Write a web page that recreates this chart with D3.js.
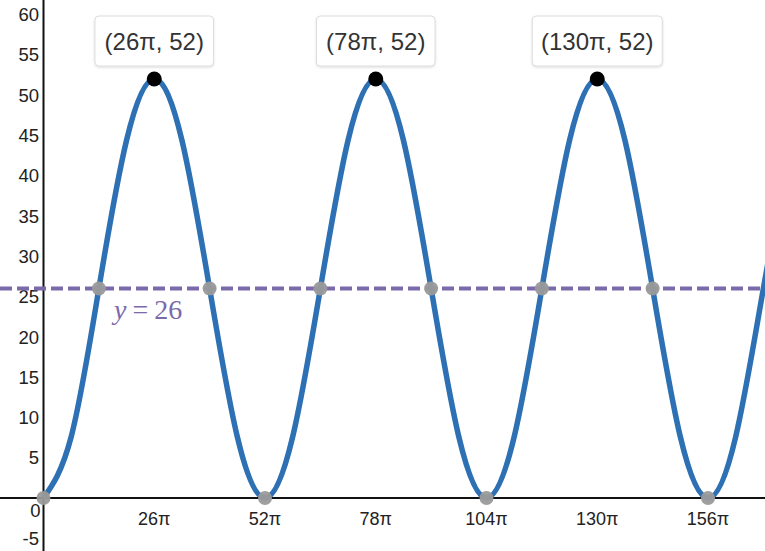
<!DOCTYPE html>
<html>
<head>
<meta charset="utf-8">
<script src="https://cdn.jsdelivr.net/npm/d3@7"></script>
<style>
  body { margin: 0; background: #fff; }
  svg { display: block; font-family: Arial, "Liberation Sans", sans-serif; }
</style>
</head>
<body>
<div id="chart"></div>
<script>
// x values are in units of π
const curveX = [0, 6.5, 13, 19.5, 26, 32.5, 39, 45.5, 52, 58.5, 65, 71.5, 78, 84.5, 91, 97.5,
  104, 110.5, 117, 123.5, 130, 136.5, 143, 149.5, 156, 162.5, 169, 175.5];
const curveY = [0, 7.6, 26, 44.4, 52, 44.4, 26, 7.6, 0, 7.6, 26, 44.4, 52, 44.4, 26, 7.6,
  0, 7.6, 26, 44.4, 52, 44.4, 26, 7.6, 0, 7.6, 26, 44.4];
const peaks = [[26, 52], [78, 52], [130, 52]];
const peakLabels = ['(26π, 52)', '(78π, 52)', '(130π, 52)'];
const grayPts = [[0, 0], [13, 26], [39, 26], [52, 0], [65, 26], [91, 26], [104, 0],
  [117, 26], [143, 26], [156, 0]];
const lineY = 26;
const xTicks = [26, 52, 78, 104, 130, 156];
const yTicks = [-5, 5, 10, 15, 20, 25, 30, 35, 40, 45, 50, 55, 60];

const width = 765, height = 551;
const x = d3.scaleLinear().domain([0, 156]).range([43.5, 708]);
const y = d3.scaleLinear().domain([0, 52]).range([498, 79]);

const svg = d3.select('#chart').append('svg')
  .attr('width', width).attr('height', height);

const defs = svg.append('defs');
const f = defs.append('filter').attr('id', 'shadow')
  .attr('x', '-10%').attr('y', '-10%').attr('width', '120%').attr('height', '130%');
f.append('feDropShadow').attr('dx', 0).attr('dy', 1).attr('stdDeviation', 1)
  .attr('flood-color', '#000').attr('flood-opacity', 0.15);

// axes
svg.append('line').attr('x1', x(0)).attr('x2', x(0)).attr('y1', 0).attr('y2', height)
  .attr('stroke', '#111').attr('stroke-width', 2);
svg.append('line').attr('x1', 0).attr('x2', width).attr('y1', y(0)).attr('y2', y(0))
  .attr('stroke', '#111').attr('stroke-width', 2);

svg.append('g').selectAll('text').data(yTicks).join('text')
  .attr('x', x(0) - 4.5).attr('y', d => y(d)).attr('dy', '0.36em')
  .attr('text-anchor', 'end').attr('font-size', 18.5).attr('fill', '#222')
  .text(d => d);
svg.append('text').attr('x', x(0) - 8).attr('y', y(0) + 19)
  .attr('text-anchor', 'middle').attr('font-size', 18.5).attr('fill', '#222').text('0');

svg.append('g').selectAll('text').data(xTicks).join('text')
  .attr('x', d => x(d)).attr('y', y(0) + 27)
  .attr('text-anchor', 'middle').attr('font-size', 18).attr('fill', '#222')
  .text(d => d + 'π');

// y = 26 dashed line
svg.append('line').attr('x1', 0).attr('x2', width).attr('y1', y(lineY)).attr('y2', y(lineY))
  .attr('stroke', '#7a6aab').attr('stroke-width', 4).attr('stroke-dasharray', '12,5');

// curve
const pts = curveX.map((d, i) => [d, curveY[i]]);
const line = d3.line().x(d => x(d[0])).y(d => y(d[1])).curve(d3.curveNatural);
svg.append('path').datum(pts).attr('d', line)
  .attr('fill', 'none').attr('stroke', '#2d70b3').attr('stroke-width', 5.5);

// gray points
svg.append('g').selectAll('circle').data(grayPts).join('circle')
  .attr('cx', d => x(d[0])).attr('cy', d => y(d[1])).attr('r', 7)
  .attr('fill', '#9a9a9a').attr('fill-opacity', 0.95);

// peaks
svg.append('g').selectAll('circle').data(peaks).join('circle')
  .attr('cx', d => x(d[0])).attr('cy', d => y(d[1])).attr('r', 7.5)
  .attr('fill', '#000');

// label for line
const yl = svg.append('text').attr('x', 114).attr('y', y(lineY) + 30)
  .attr('font-family', '"Liberation Serif", "Times New Roman", serif')
  .attr('font-size', 28).attr('fill', '#7a6aab');
yl.append('tspan').attr('font-style', 'italic').text('y');
yl.append('tspan').attr('dx', 6).text('=');
yl.append('tspan').attr('dx', 6).text('26');

// peak labels
const lab = svg.append('g').selectAll('g').data(peaks).join('g')
  .attr('transform', d => `translate(${x(d[0])},${y(d[1]) - 38})`);
lab.append('rect')
  .attr('x', (d, i) => -(peakLabels[i].length * 11.4 + 16) / 2)
  .attr('y', -25).attr('height', 50)
  .attr('width', (d, i) => peakLabels[i].length * 11.4 + 16)
  .attr('rx', 4).attr('fill', '#fff').attr('stroke', '#dcdcdc').attr('stroke-width', 1)
  .attr('filter', 'url(#shadow)');
lab.append('text').attr('text-anchor', 'middle').attr('dy', '0.36em')
  .attr('font-size', 24).attr('fill', '#333')
  .text((d, i) => peakLabels[i]);
</script>
</body>
</html>
